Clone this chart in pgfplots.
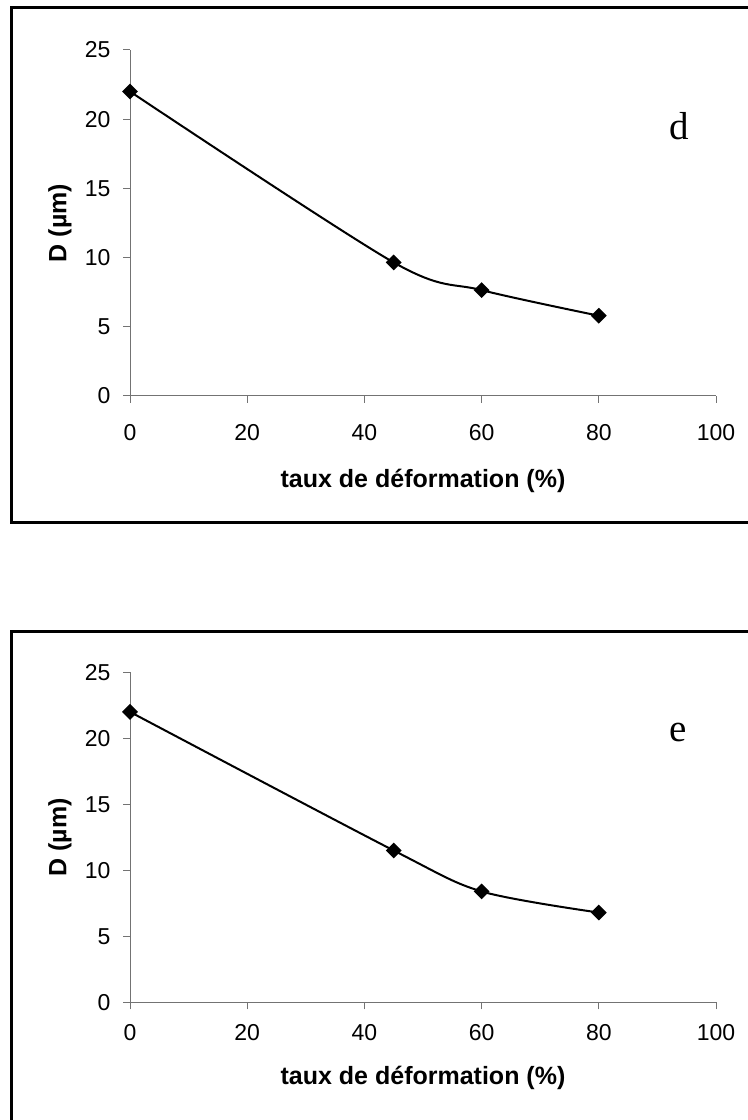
\documentclass[border=0pt]{standalone}
\usepackage{pgfplots}
\pgfplotsset{compat=1.18}
\usepackage{fontspec}
\setmainfont{Liberation Sans}
\newfontfamily\timesfont{Liberation Serif}
\pgfplotsset{
  panel/.style={
    scale only axis,
    width=293pt,
    xmin=0, xmax=100, ymin=0, ymax=25,
    xtick={0,20,...,100}, ytick={0,5,...,25},
    axis x line*=bottom, axis y line*=left,
    axis line style={-, draw=gray!90!black, line width=0.5pt},
    tick style={draw=gray!90!black, line width=0.5pt},
    tick align=outside, major tick length=3.5pt,
    /pgf/number format/assume math mode=true,
    tick label style={font=\fontsize{11.5}{13}\selectfont, text=black},
    label style={font=\fontsize{12.5}{14}\selectfont\bfseries},
    xlabel={taux de déformation (\%)},
    ylabel={D (µm)},
    clip=false,
  },
  curve/.style={black, line width=1pt, smooth, tension=0.5,
    mark=square*, mark size=2.3pt, mark options={rotate=45, fill=black, solid}},
}
\begin{document}
\begin{tikzpicture}
\useasboundingbox (0pt,0pt) rectangle (374pt,560pt);
\clip (0pt,0pt) rectangle (374pt,560pt);
% panel frames
\draw[line width=1.5pt, black] (5.5pt,556pt) rectangle (385pt,298.5pt);
\draw[line width=1.5pt, black] (5.5pt,244pt) rectangle (385pt,-15pt);
% top panel (d)
\begin{axis}[panel, at={(65pt,362pt)}, anchor=south west, height=173pt,
  xticklabel shift=7pt, yticklabel shift=2.7pt,
  xlabel style={at={(axis description cs:0.5,0)}, anchor=center, yshift=-42.5pt},
  ylabel style={at={(axis description cs:0,0.5)}, anchor=center, rotate=0, yshift=35pt}]
\addplot[curve] coordinates {(0,22) (45,9.65) (60,7.65) (80,5.8)};
\end{axis}
% bottom panel (e)
\begin{axis}[panel, at={(65pt,58.85pt)}, anchor=south west, height=165pt,
  xticklabel shift=4pt, yticklabel shift=2.7pt,
  xlabel style={at={(axis description cs:0.5,0)}, anchor=center, yshift=-38pt},
  ylabel style={at={(axis description cs:0,0.5)}, anchor=center, rotate=0, yshift=35pt}]
\addplot[curve] coordinates {(0,22) (45,11.5) (60,8.4) (80,6.8)};
\end{axis}
\node[anchor=base, font=\timesfont\fontsize{19.5}{22}\selectfont] at (339.75pt,490pt) {d};
\node[anchor=base, font=\timesfont\fontsize{19.5}{22}\selectfont] at (339pt,189pt) {e};
\end{tikzpicture}
\end{document}
